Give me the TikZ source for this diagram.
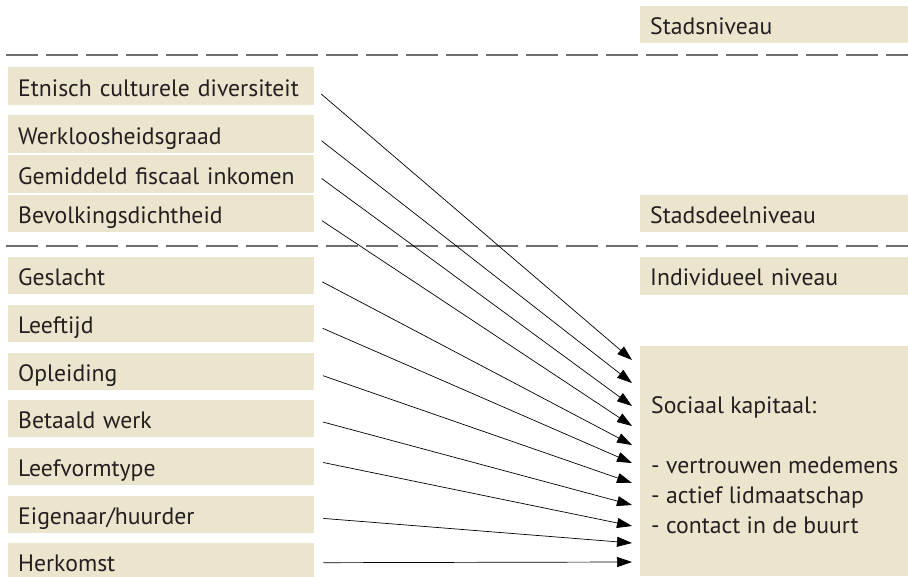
\documentclass[tikz,border=0pt]{standalone}
\usepackage{fontspec}
\setmainfont{PT Sans}
\usepackage{tikz}
\usetikzlibrary{positioning,arrows.meta}
\definecolor{boxFill}{RGB}{236,229,206}
\definecolor{inkText}{RGB}{35,31,32}
\definecolor{sepGray}{RGB}{110,110,110}
\tikzstyle{effChan}=[-{Triangle[length=15pt,width=10pt]}, black, line width=0.7pt, shorten <=9pt]
\tikzstyle{levelSep}=[sepGray, line width=1.5pt, dash pattern=on 32pt off 8pt]
\tikzstyle {factor_box} = [rectangle, fill=boxFill, text=inkText, anchor=north west, minimum height=38pt, text width=286pt, text height=20pt, text depth=0pt, inner xsep=10pt, inner ysep=0pt, align=left]
\tikzstyle {level_box} = [rectangle, fill=boxFill, text=inkText, anchor=north west, minimum height=37pt, text width=248pt, text height=19pt, text depth=0pt, inner xsep=10pt, inner ysep=0pt, align=left]

\begin{document}
\begin{tikzpicture}[x=1pt, y=-1pt, font=\fontsize{23.7}{30}\selectfont]
        \useasboundingbox (0, 0) rectangle (908, 576);

        % Levels
        \node [style=level_box] (Stad) at (640, 6) {Stadsniveau};
        \node [style=level_box] (Stadsdeel) at (640, 195) {Stadsdeelniveau};
        \node [style=level_box, minimum height=38pt] (Individu) at (640, 257) {Individueel niveau};
        \draw [style=levelSep] (6, 55) -- (908, 55);
        \draw [style=levelSep] (6, 246) -- (908, 246);

        % Stadsdeel factors
        \node [style=factor_box] (Etnisch) at (8, 67) {Etnisch culturele diversiteit};
        \node [style=factor_box] (Werkloos) at (8, 115) {Werkloosheidsgraad};
        \node [style=factor_box] (Inkomen) at (8, 155) {Gemiddeld fiscaal inkomen};
        \node [style=factor_box, minimum height=37pt] (Dichtheid) at (8, 195) {Bevolkingsdichtheid};

        % Individual factors
        \node [style=factor_box, minimum height=37pt] (Geslacht) at (8, 257) {Geslacht};
        \node [style=factor_box, minimum height=37pt] (Leeftijd) at (8, 305) {Leeftijd};
        \node [style=factor_box, minimum height=37pt] (Opleiding) at (8, 353) {Opleiding};
        \node [style=factor_box, minimum height=37pt] (Werk) at (8, 400) {Betaald werk};
        \node [style=factor_box, minimum height=37pt] (Leefvorm) at (8, 448) {Leefvormtype};
        \node [style=factor_box, minimum height=37pt] (Eigenaar) at (8, 496) {Eigenaar/huurder};
        \node [style=factor_box, minimum height=37pt] (Herkomst) at (8, 543) {Herkomst};

        % Outcome
        \node [style=level_box, minimum height=230pt] (Kapitaal) at (640, 346) {};
        \node [anchor=base west, text=inkText, align=left, inner sep=0pt] (KapitaalTxt) at (651, 533) {Sociaal kapitaal:\\ \\- vertrouwen medemens\\- actief lidmaatschap\\- contact in de buurt};

        % Arrow ends
        \coordinate (t1) at (632, 360);
        \coordinate (t2) at (632, 383);
        \coordinate (t3) at (632, 406);
        \coordinate (t4) at (632, 426);
        \coordinate (t5) at (632, 445);
        \coordinate (t6) at (632, 463);
        \coordinate (t7) at (632, 483);
        \coordinate (t8) at (632, 505);
        \coordinate (t9) at (632, 526);
        \coordinate (t10) at (632, 543);
        \coordinate (t11) at (632, 562);

        \draw [style=effChan] ([yshift=-2pt]Etnisch.east) to (t1);
        \draw [style=effChan] ([yshift=-1pt]Werkloos.east) to (t2);
        \draw [style=effChan] ([yshift=1pt]Inkomen.east) to (t3);
        \draw [style=effChan] ([yshift=-2pt]Dichtheid.east) to (t4);
        \draw [style=effChan] ([yshift=-2pt]Geslacht.east) to (t5);
        \draw [style=effChan] ([yshift=-1pt]Leeftijd.east) to (t6);
        \draw [style=effChan] ([yshift=-1pt]Opleiding.east) to (t7);
        \draw [style=effChan] ([yshift=-1pt]Werk.east) to (t8);
        \draw [style=effChan] ([yshift=6pt]Leefvorm.east) to (t9);
        \draw [style=effChan] ([yshift=-3pt]Eigenaar.east) to (t10);
        \draw [style=effChan] ([yshift=-1pt]Herkomst.east) to (t11);
    \end{tikzpicture}
\end{document}
